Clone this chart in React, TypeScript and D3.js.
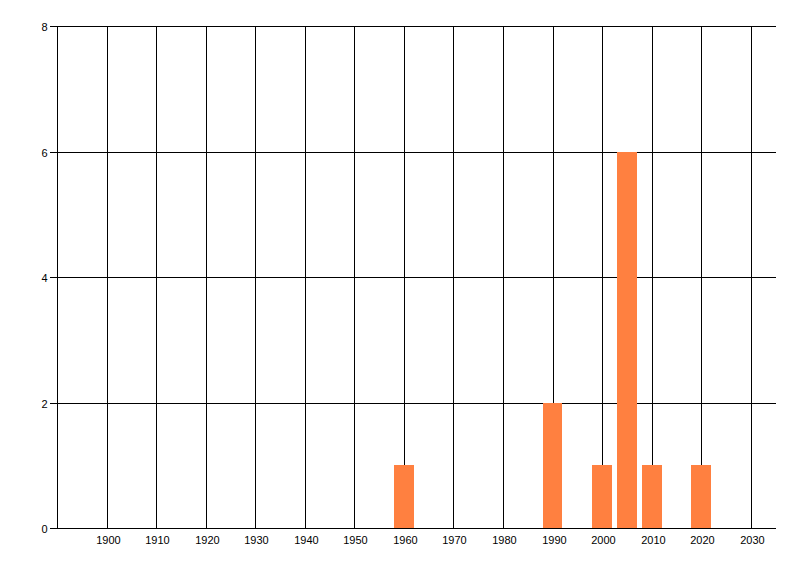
import * as React from 'react'
import * as d3 from 'd3'

const years = [1960, 1990, 2000, 2005, 2010, 2020];
const counts = [1, 2, 1, 6, 1, 1];
const xTicks = [1900, 1910, 1920, 1930, 1940, 1950, 1960, 1970, 1980, 1990, 2000, 2010, 2020, 2030];
const yTicks = [0, 2, 4, 6, 8];

const W = 800;
const H = 576;

const App: React.FC = () => {
  const ref = React.useRef<SVGSVGElement>(null);

  React.useEffect(() => {
    const svg = d3.select(ref.current);
    svg.selectAll('*').remove();

    const x = d3.scaleLinear().domain([1890, 2035]).range([57, 775.5]);
    const y = d3.scaleLinear().domain([0, 8]).range([528, 26]);
    const crisp = (v: number) => Math.round(v) + 0.5;

    const left = crisp(x(1890));
    const right = 776;

    // vertical grid
    svg.append('g')
      .selectAll('line')
      .data(xTicks)
      .enter()
      .append('line')
      .attr('x1', d => crisp(x(d)))
      .attr('x2', d => crisp(x(d)))
      .attr('y1', crisp(y(8)))
      .attr('y2', crisp(y(0)))
      .attr('stroke', '#000')
      .attr('shape-rendering', 'crispEdges');

    // horizontal grid + ticks
    svg.append('g')
      .selectAll('line')
      .data(yTicks)
      .enter()
      .append('line')
      .attr('x1', left - 8)
      .attr('x2', right)
      .attr('y1', d => crisp(y(d)))
      .attr('y2', d => crisp(y(d)))
      .attr('stroke', '#000')
      .attr('shape-rendering', 'crispEdges');

    // bars, drawn over the grid
    svg.append('g')
      .selectAll('rect')
      .data(years.map((yr, i) => ({ yr, c: counts[i] })))
      .enter()
      .append('rect')
      .attr('x', d => Math.round(x(d.yr - 2)))
      .attr('width', d => Math.round(x(d.yr + 2)) - Math.round(x(d.yr - 2)))
      .attr('y', d => Math.round(y(d.c)))
      .attr('height', d => Math.round(y(0)) - Math.round(y(d.c)))
      .attr('fill', '#ff8040');

    // axis lines
    svg.append('line')
      .attr('x1', left).attr('x2', left)
      .attr('y1', crisp(y(8))).attr('y2', crisp(y(0)))
      .attr('stroke', '#000')
      .attr('shape-rendering', 'crispEdges');
    svg.append('line')
      .attr('x1', left - 8).attr('x2', right)
      .attr('y1', crisp(y(0))).attr('y2', crisp(y(0)))
      .attr('stroke', '#000')
      .attr('shape-rendering', 'crispEdges');

    // y labels
    svg.append('g')
      .selectAll('text')
      .data(yTicks)
      .enter()
      .append('text')
      .attr('x', left - 10)
      .attr('y', d => crisp(y(d)) + 4)
      .attr('text-anchor', 'end')
      .attr('font-family', '"Liberation Sans", Arial, sans-serif')
      .attr('font-size', 11)
      .attr('fill', '#000')
      .text(d => d);

    // x labels
    svg.append('g')
      .selectAll('text')
      .data(xTicks)
      .enter()
      .append('text')
      .attr('x', d => crisp(x(d)) + 1)
      .attr('y', 544)
      .attr('text-anchor', 'middle')
      .attr('font-family', '"Liberation Sans", Arial, sans-serif')
      .attr('font-size', 11)
      .attr('fill', '#000')
      .text(d => d);
  }, []);

  return (
    <svg
      ref={ref}
      width={W}
      height={H}
      style={{ position: 'absolute', left: 0, top: 0, background: '#fff' }}
    />
  );
};

export default App;
